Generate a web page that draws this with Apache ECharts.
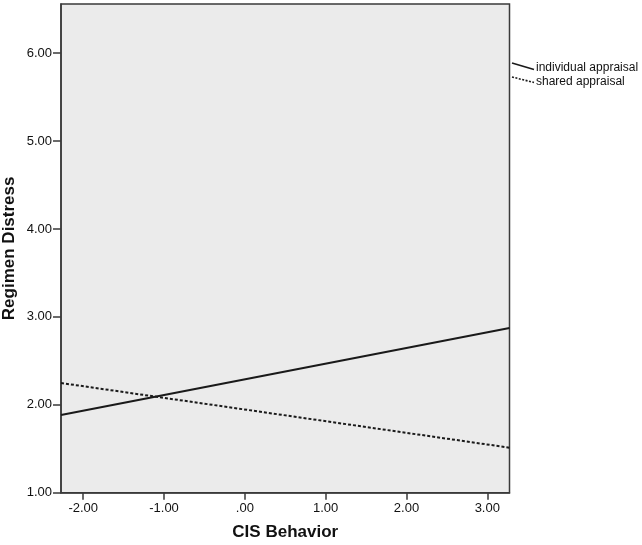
<!DOCTYPE html>
<html>
<head>
<meta charset="utf-8">
<script src="https://cdn.jsdelivr.net/npm/echarts@6/dist/echarts.min.js"></script>
<style>
html,body{margin:0;padding:0;background:#fff;}
#chart{width:642px;height:545px;}
</style>
</head>
<body>
<div id="chart"></div>
<script>
// Data
const xEnds = [-2.275, 3.275];
const individualAppraisal = [1.884, 2.874];
const sharedAppraisal = [2.248, 1.512];
const xTicks = [-2, -1, 0, 1, 2, 3];
const yTicks = [1, 2, 3, 4, 5, 6];
const seriesNames = ['individual appraisal', 'shared appraisal'];

const fmt = v => {
  if (Math.abs(v) < 1e-9) return '.00';
  return v.toFixed(2);
};
const FONT = '"Liberation Sans", Arial, sans-serif';

const chart = echarts.init(document.getElementById('chart'), null, {renderer: 'canvas'});
chart.setOption({
  animation: false,
  backgroundColor: '#ffffff',
  grid: {
    left: 61, top: 4, right: 132.5, bottom: 52.3,
    outerBoundsMode: 'none', containLabel: false,
    show: true, backgroundColor: '#ebebeb', borderColor: '#3a3a3a', borderWidth: 1.5
  },
  xAxis: {
    type: 'value', min: xEnds[0], max: xEnds[1],
    name: 'CIS Behavior', nameLocation: 'middle', nameGap: 31,
    nameTextStyle: {fontFamily: FONT, fontSize: 17, fontWeight: 'bold', color: '#111'},
    axisLine: {show: true, onZero: false, lineStyle: {color: '#3a3a3a', width: 1.5}},
    axisTick: {show: true, length: 7, customValues: xTicks, lineStyle: {color: '#3a3a3a', width: 1.5}},
    axisLabel: {customValues: xTicks, formatter: fmt, fontFamily: FONT, fontSize: 13, color: '#111', margin: 9},
    splitLine: {show: false}
  },
  yAxis: {
    type: 'value', min: 1, max: 6.56,
    name: 'Regimen Distress', nameLocation: 'middle', nameGap: 43, nameRotate: 90,
    nameMoveOverlap: false,
    nameTextStyle: {fontFamily: FONT, fontSize: 17, fontWeight: 'bold', color: '#111'},
    axisLine: {show: true, onZero: false, lineStyle: {color: '#3a3a3a', width: 1.5}},
    axisTick: {show: true, length: 8, customValues: yTicks, lineStyle: {color: '#3a3a3a', width: 1.5}},
    axisLabel: {customValues: yTicks, formatter: fmt, fontFamily: FONT, fontSize: 13, color: '#111', margin: 9},
    splitLine: {show: false}
  },
  series: [
    {
      name: seriesNames[0], type: 'line', symbol: 'none',
      data: xEnds.map((x, i) => [x, individualAppraisal[i]]),
      lineStyle: {color: '#1a1a1a', width: 2, type: 'solid'}
    },
    {
      name: seriesNames[1], type: 'line', symbol: 'none',
      data: xEnds.map((x, i) => [x, sharedAppraisal[i]]),
      lineStyle: {color: '#1a1a1a', width: 2, type: [3, 2]}
    }
  ],
  graphic: [
    {type: 'line', shape: {x1: 512, y1: 63, x2: 534, y2: 69.5}, style: {stroke: '#1a1a1a', lineWidth: 1.6}},
    {type: 'text', left: 536, top: 62, style: {text: seriesNames[0], font: '12px ' + FONT, fill: '#111'}},
    {type: 'line', shape: {x1: 512, y1: 77, x2: 534, y2: 82.5}, style: {stroke: '#1a1a1a', lineWidth: 1.6, lineDash: [2, 1.5]}},
    {type: 'text', left: 536, top: 76, style: {text: seriesNames[1], font: '12px ' + FONT, fill: '#111'}}
  ]
});
</script>
</body>
</html>
